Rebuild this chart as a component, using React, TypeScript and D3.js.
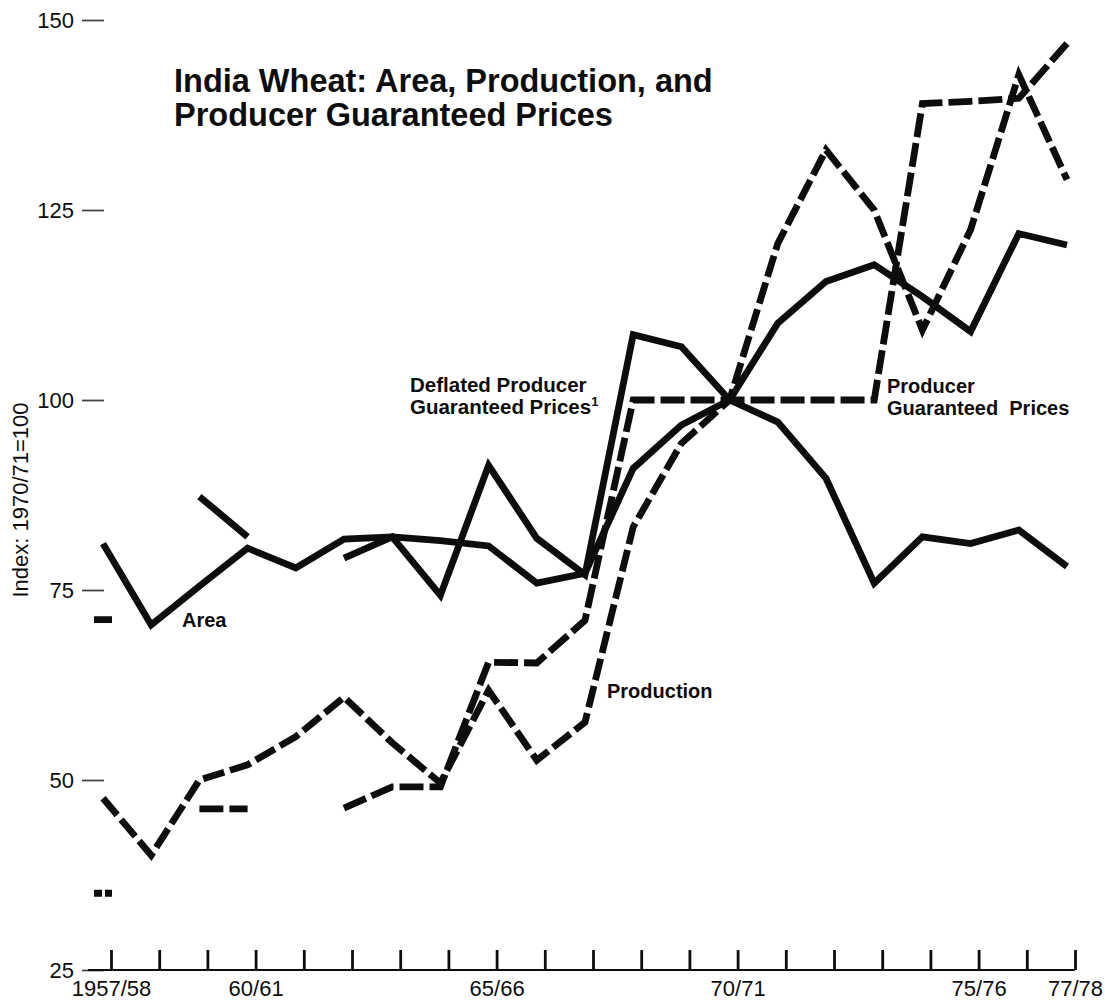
import React, { useEffect, useRef } from 'react';
import * as d3 from 'd3';

const years = [
  '1957/58', '1958/59', '1959/60', '1960/61', '1961/62', '1962/63', '1963/64',
  '1964/65', '1965/66', '1966/67', '1967/68', '1968/69', '1969/70', '1970/71',
  '1971/72', '1972/73', '1973/74', '1974/75', '1975/76', '1976/77', '1977/78'
];
const labeledYears: Record<string, string> = {
  '1957/58': '1957/58',
  '1960/61': '60/61',
  '1965/66': '65/66',
  '1970/71': '70/71',
  '1975/76': '75/76',
  '1977/78': '77/78'
};
const yTicks = [25, 50, 75, 100, 125, 150];

const area = [81.1, 70.4, 75.5, 80.5, 77.9, 81.7, 82, 81.5, 80.8, 75.9, 77.2, 91, 96.7, 100, 110.1, 115.6, 117.8, 113.6, 109, 121.9, 120.4];
const production = [47.6, 40.1, 50, 52, 55.7, 60.9, 54.9, 49.6, 61.8, 52.6, 57.6, 83.3, 94.3, 100, 120.6, 132.9, 125, 109.2, 122.4, 142.8, 129];
const guaranteed: (number | null)[] = [35.1, null, 46.2, 46.2, null, 46.3, 49.1, 49.1, 65.5, 65.4, 71, 100, 100, 100, 100, 100, 100, 139, 139.3, 139.7, 146.9];
const deflated: (number | null)[] = [71.1, null, 87.3, 82, null, 79.2, 82, 74.3, 91.4, 81.8, 77, 108.6, 107, 100, 97.1, 89.7, 75.9, 82, 81.1, 82.9, 78.1];

const series = [
  { name: 'Area', values: area, dash: null },
  { name: 'Deflated', values: deflated, dash: null },
  { name: 'Production', values: production, dash: '22,6' },
  { name: 'Guaranteed', values: guaranteed, dash: '24,6' }
];

const FONT = '"Liberation Sans", Arial, Helvetica, sans-serif';
const INK = '#0d0d0d';

const App: React.FC = () => {
  const svgRef = useRef<SVGSVGElement>(null);
  const width = 1105;
  const height = 1003;

  useEffect(() => {
    if (!svgRef.current) return;
    const svg = d3.select(svgRef.current);
    svg.selectAll('*').remove();

    // Scales (data points sit a little left of the printed ticks)
    const x = d3.scalePoint<string>().domain(years).range([103, 1067]);
    const xTick = d3.scalePoint<string>().domain(years).range([111, 1075]);
    const y = d3.scaleLinear().domain([25, 150]).range([970, 20]);

    // Y axis: labels and short dashes, no spine
    const yAxis = d3.axisLeft(y).tickValues(yTicks).tickSize(22).tickPadding(8);
    const gy = svg.append('g').attr('transform', 'translate(104,0)').call(yAxis);
    gy.select('.domain').remove();
    gy.selectAll('line').attr('stroke', '#444').attr('stroke-width', 1.8);
    gy.selectAll('text')
      .attr('fill', INK)
      .style('font-family', FONT)
      .style('font-size', '22px');

    svg.append('text')
      .attr('transform', 'translate(28,500) rotate(-90)')
      .attr('text-anchor', 'middle')
      .attr('fill', INK)
      .style('font-family', FONT)
      .style('font-size', '22px')
      .text('Index: 1970/71=100');

    // X axis
    svg.append('line')
      .attr('x1', 88)
      .attr('x2', xTick(years[years.length - 1])!)
      .attr('y1', y(25))
      .attr('y2', y(25))
      .attr('stroke', INK)
      .attr('stroke-width', 2);

    const xAxis = d3.axisBottom(xTick)
      .tickSize(-20)
      .tickSizeOuter(0)
      .tickPadding(10)
      .tickFormat((d) => labeledYears[d] || '');
    const gx = svg.append('g').attr('transform', `translate(0,${y(25)})`).call(xAxis);
    gx.select('.domain').remove();
    gx.selectAll('line').attr('stroke', INK).attr('stroke-width', 2.8);
    gx.selectAll('text')
      .attr('fill', INK)
      .style('font-family', FONT)
      .style('font-size', '22px');

    // Lines
    const line = d3.line<number | null>()
      .defined((d) => d !== null)
      .x((_, i) => x(years[i])!)
      .y((d) => y(d as number));

    series.forEach((s) => {
      svg.append('path')
        .datum(s.values)
        .attr('fill', 'none')
        .attr('stroke', INK)
        .attr('stroke-width', 6.8)
        .attr('stroke-linejoin', 'miter')
        .attr('stroke-miterlimit', 3)
        .attr('stroke-dasharray', s.dash)
        .attr('d', line);

      // single isolated years are printed as a short horizontal mark
      s.values.forEach((v, i) => {
        if (v === null) return;
        const prev = i > 0 ? s.values[i - 1] : null;
        const next = i < s.values.length - 1 ? s.values[i + 1] : null;
        if (prev !== null || next !== null) return;
        const cx = x(years[i])!;
        svg.append('line')
          .attr('x1', cx - 9)
          .attr('x2', cx + 9)
          .attr('y1', y(v))
          .attr('y2', y(v))
          .attr('stroke', INK)
          .attr('stroke-width', 6.8)
          .attr('stroke-dasharray', s.dash ? '8,3' : null);
      });
    });

    // Title
    const title = svg.append('text')
      .attr('fill', INK)
      .style('font-family', FONT)
      .style('font-size', '32.5px')
      .style('font-weight', 'bold');
    title.append('tspan').attr('x', 174).attr('y', 92).text('India Wheat: Area, Production, and');
    title.append('tspan').attr('x', 174).attr('y', 126).text('Producer Guaranteed Prices');

    // Series labels
    const label = (lines: string[], lx: number, ly: number, size: number) => {
      const t = svg.append('text')
        .attr('fill', INK)
        .style('font-family', FONT)
        .style('font-size', `${size}px`)
        .style('font-weight', 'bold');
      lines.forEach((l, i) => {
        t.append('tspan').attr('x', lx).attr('y', ly + i * 22).text(l);
      });
      return t;
    };

    label(['Area'], 182, 627, 20);
    label(['Production'], 607, 698, 20);
    const defl = label(['Deflated Producer', 'Guaranteed Prices'], 410, 392, 20.5);
    defl.append('tspan')
      .attr('dy', -8)
      .style('font-size', '13px')
      .text('1');
    label(['Producer', 'Guaranteed  Prices'], 887, 393, 20).attr('xml:space', 'preserve');
  }, []);

  return (
    <div style={{ position: 'absolute', left: 0, top: 0 }}>
      <svg ref={svgRef} width={width} height={height} style={{ display: 'block', background: '#fff' }} />
    </div>
  );
};

export default App;
